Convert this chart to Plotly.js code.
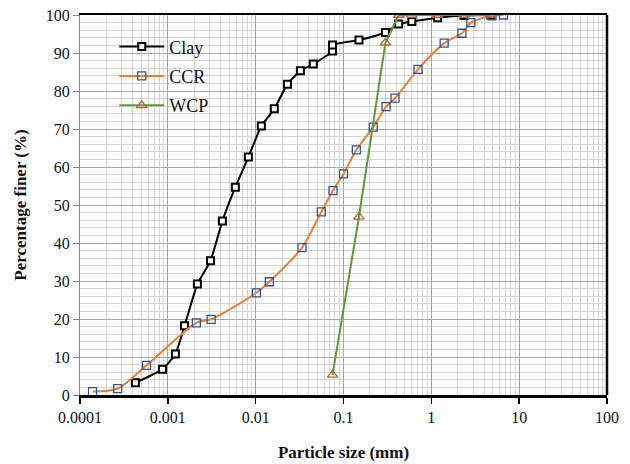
<!DOCTYPE html>
<html>
<head>
<meta charset="utf-8">
<script src="https://cdn.plot.ly/plotly-3.0.1.min.js"></script>
<style>html,body{margin:0;padding:0;background:#fff}#chart{width:630px;height:464px}</style>
</head>
<body>
<div id="chart"></div>
<script>
const clayX = [0.000427, 0.000869, 0.00122, 0.00155, 0.00217, 0.00306, 0.00418, 0.00587, 0.00826, 0.0116, 0.0163, 0.0230, 0.0323, 0.0453, 0.075, 0.075, 0.15, 0.30, 0.425, 0.6, 1.18, 2.36, 4.75];
const clayY = [3.2, 6.8, 10.8, 18.2, 29.2, 35.3, 45.8, 54.7, 62.6, 70.8, 75.3, 81.8, 85.3, 87.1, 90.5, 92.1, 93.4, 95.4, 97.6, 98.3, 99.3, 99.9, 100];
const ccrX = [0.000139, 0.000269, 0.000571, 0.00211, 0.00311, 0.0102, 0.0143, 0.0337, 0.0559, 0.0759, 0.1, 0.14, 0.218, 0.305, 0.386, 0.705, 1.40, 2.23, 2.82, 4.9, 6.63];
const ccrY = [0.9, 1.7, 7.8, 19.0, 19.9, 26.9, 29.8, 38.8, 48.2, 53.8, 58.2, 64.5, 70.5, 75.9, 78.1, 85.7, 92.6, 95.2, 98.0, 99.8, 100];
const wcpX = [0.075, 0.15, 0.30, 0.425, 0.6, 1.18, 2.36, 4.75];
const wcpY = [5.3, 46.9, 92.7, 100, 100, 100, 100, 100];
const xTickVals = [0.0001, 0.001, 0.01, 0.1, 1, 10, 100];
const xTickText = ['0.0001', '0.001', '0.01', '0.1', '1', '10', '100'];
const seriesNames = ['Clay', 'CCR', 'WCP'];

const font = 'Liberation Serif, Times New Roman, serif';
const traces = [
  {x: clayX, y: clayY, name: seriesNames[0], legendgroup: 'a', type: 'scatter', mode: 'lines+markers',
   line: {color: '#000000', width: 2, shape: 'spline', smoothing: 0.5},
   marker: {symbol: 'square', size: 7, color: '#ffffff', line: {color: '#000000', width: 2}}},
  {x: ccrX, y: ccrY, name: seriesNames[1], legendgroup: 'b', type: 'scatter', mode: 'lines+markers',
   line: {color: '#ED7D31', width: 2, shape: 'spline', smoothing: 0.8},
   marker: {symbol: 'square-open', size: 8, color: '#2F5597', line: {color: '#2F5597', width: 1.3}}},
  {x: wcpX, y: wcpY, name: seriesNames[2], legendgroup: 'c', type: 'scatter', mode: 'lines+markers',
   line: {color: '#5E9A3C', width: 2},
   marker: {symbol: 'triangle-up-open', size: 9, color: '#B8652E', line: {color: '#B8652E', width: 1.3}}}
];

const layout = {
  width: 630, height: 464,
  margin: {l: 80, r: 23, t: 15, b: 69},
  paper_bgcolor: '#ffffff', plot_bgcolor: '#ffffff',
  font: {family: font, size: 16, color: '#111'},
  showlegend: true,
  legend: {x: 0.065, y: 0.965, xanchor: 'left', yanchor: 'top', bgcolor: 'rgba(0,0,0,0)',
    font: {family: font, size: 18, color: '#111'}, traceorder: 'grouped', tracegroupgap: 3, itemwidth: 45},
  xaxis: {type: 'log', range: [-4, 2], tickvals: xTickVals, ticktext: xTickText,
    showgrid: true, gridcolor: '#A8A8A8', gridwidth: 1,
    minor: {dtick: 'D1', showgrid: true, gridcolor: '#D4D4D4', gridwidth: 1, ticks: ''},
    ticks: 'outside', ticklen: 6, tickcolor: '#000', tickwidth: 1.5,
    showline: true, linecolor: '#000', linewidth: 2.5, mirror: true, zeroline: false,
    tickfont: {family: font, size: 16, color: '#111'},
    title: {text: '<b>Particle size (mm)</b>', font: {family: font, size: 17, color: '#111'}, standoff: 22}},
  yaxis: {range: [0, 100], dtick: 10, showgrid: true, gridcolor: '#A8A8A8', gridwidth: 1,
    minor: {dtick: 2, showgrid: true, gridcolor: '#D4D4D4', gridwidth: 1, ticks: ''},
    ticks: 'outside', ticklen: 6, tickcolor: '#888', tickwidth: 1,
    showline: true, linecolor: '#888', linewidth: 1, zeroline: false,
    tickfont: {family: font, size: 16, color: '#111'},
    title: {text: '<b>Percentage finer (%)</b>', font: {family: font, size: 17, color: '#111'}, standoff: 14}},
  shapes: [{type: 'line', xref: 'paper', yref: 'paper', x0: 1, x1: 1, y0: 0, y1: 1, line: {color: '#000', width: 2.5}}]
};
Plotly.newPlot('chart', traces, layout, {displayModeBar: false, staticPlot: true});
</script>
</body>
</html>
